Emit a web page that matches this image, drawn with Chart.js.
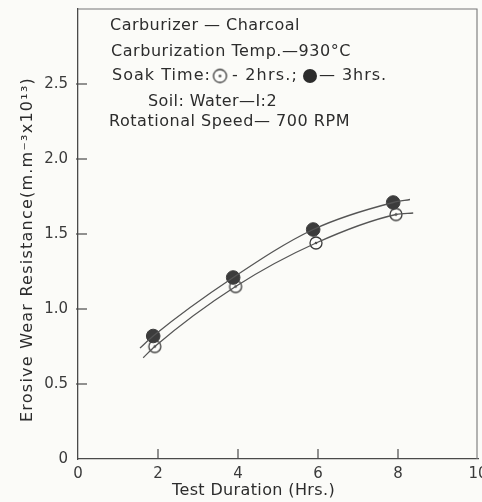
<!DOCTYPE html>
<html>
<head>
<meta charset="utf-8">
<script src="https://cdn.jsdelivr.net/npm/chart.js@4.4.1/dist/chart.umd.min.js"></script>
<style>
  html, body { margin: 0; padding: 0; background: #fbfbf8; overflow: hidden; }
  #wrap { width: 482px; height: 502px; }
</style>
</head>
<body>
<div id="wrap"><canvas id="grafico"></canvas></div>
<script>
// --- DATOS ---
const horas2h = [1.92, 3.94, 5.95, 7.95];
const soak2h = [0.75, 1.15, 1.44, 1.63];
const horas3h = [1.88, 3.88, 5.88, 7.88];
const soak3h = [0.82, 1.21, 1.53, 1.71];

// curvas ajustadas (extremos)
const curva2hX = [1.63, 1.92, 3.94, 5.95, 7.95, 8.38];
const curva2hY = [0.675, 0.75, 1.15, 1.44, 1.63, 1.64];
const curva3hX = [1.55, 1.88, 3.88, 5.88, 7.88, 8.3];
const curva3hY = [0.74, 0.82, 1.21, 1.53, 1.71, 1.73];

const xTicks = [0, 2, 4, 6, 8, 10];
const yTicks = [0, 0.5, 1.0, 1.5, 2.0, 2.5];

const tituloX = 'Test Duration (Hrs.)';
const tituloY = 'Erosive Wear Resistance(m.m\u207B\u00B3x10\u00B9\u00B3)';

// textos del recuadro: [texto, x inicial, ancho, y]
const notas = [
    ['Carburizer \u2014 Charcoal', 110, 190, 26],
    ['Carburization Temp.\u2014930\u00B0C', 111, 240, 52],
    ['Soak Time:', 112, 99, 76],
    ['- 2hrs.;', 232, 66, 76],
    ['\u2014 3hrs.', 319, 68, 76],
    ['Soil: Water\u2014I:2', 148, 129, 102],
    ['Rotational Speed\u2014 700 RPM', 109, 241, 122]
];

const tinta = '#4a4a4a';
const fuente = '"DejaVu Sans", sans-serif';

const pares = (xs, ys) => xs.map((x, i) => ({ x: x, y: ys[i] }));

// texto ajustado a un ancho dado con espaciado de letras
function textoAjustado(ctx, txt, x, y, w) {
    ctx.letterSpacing = '0px';
    const natural = ctx.measureText(txt).width;
    const esp = (w - natural) / txt.length;
    ctx.letterSpacing = Math.max(esp, -1.5) + 'px';
    ctx.fillText(txt, x, y, w);
}

// marcador circulo con punto
function circuloPunto(r) {
    const c = document.createElement('canvas');
    c.width = 2 * r + 4; c.height = 2 * r + 4;
    const m = r + 2;
    const g = c.getContext('2d');
    g.fillStyle = '#fdfdfb';
    g.strokeStyle = '#3a3a3a';
    g.lineWidth = 1.3;
    g.beginPath(); g.arc(m, m, r, 0, Math.PI * 2); g.fill(); g.stroke();
    g.fillStyle = '#3a3a3a';
    g.beginPath(); g.arc(m, m, 1.3, 0, Math.PI * 2); g.fill();
    return c;
}

// --- PLUGIN: marco, ticks hacia dentro y textos ---
const extras = {
    id: 'extras',
    afterDraw(chart) {
        const ctx = chart.ctx;
        const a = chart.chartArea;
        const sx = chart.scales.x, sy = chart.scales.y;
        ctx.save();
        ctx.strokeStyle = '#777';
        ctx.lineWidth = 1.1;
        ctx.beginPath();
        ctx.moveTo(a.left, a.top); ctx.lineTo(a.right - 1, a.top); ctx.lineTo(a.right - 1, a.bottom);
        ctx.stroke();

        ctx.strokeStyle = tinta;
        ctx.lineWidth = 1.2;
        xTicks.slice(1, 5).forEach(v => {
            const px = sx.getPixelForValue(v);
            ctx.beginPath(); ctx.moveTo(px, a.bottom); ctx.lineTo(px, a.bottom - 10); ctx.stroke();
        });
        yTicks.slice(1).forEach(v => {
            const py = sy.getPixelForValue(v);
            ctx.beginPath(); ctx.moveTo(a.left - 2, py); ctx.lineTo(a.left + 9, py); ctx.stroke();
        });

        ctx.fillStyle = '#2c2c2c';
        ctx.font = '16px ' + fuente;
        ctx.textBaseline = 'middle';
        notas.forEach(([txt, x, w, y]) => textoAjustado(ctx, txt, x, y, w));
        // simbolos de la leyenda
        const sim = circuloPunto(6.5);
        ctx.drawImage(sim, 220 - sim.width / 2, 76 - sim.height / 2);
        ctx.beginPath(); ctx.arc(310, 76, 7, 0, Math.PI * 2); ctx.fill();

        // titulos de ejes
        textoAjustado(ctx, tituloX, 172, 491, 163);
        ctx.translate(28, 422);
        ctx.rotate(-Math.PI / 2);
        textoAjustado(ctx, tituloY, 0, 0, 345);
        ctx.restore();
    }
};

new Chart(document.getElementById('grafico'), {
    type: 'scatter',
    data: {
        datasets: [
            {
                label: 'curva 3h', data: pares(curva3hX, curva3hY), showLine: true,
                borderColor: '#555', borderWidth: 1.3, pointRadius: 0,
                cubicInterpolationMode: 'monotone'
            },
            {
                label: 'curva 2h', data: pares(curva2hX, curva2hY), showLine: true,
                borderColor: '#555', borderWidth: 1.3, pointRadius: 0,
                cubicInterpolationMode: 'monotone'
            },
            {
                label: 'Soak 3 hrs', data: pares(horas3h, soak3h),
                pointRadius: 6.8, pointBackgroundColor: '#3c3c3c', pointBorderColor: '#3c3c3c'
            },
            {
                label: 'Soak 2 hrs', data: pares(horas2h, soak2h),
                pointStyle: circuloPunto(6), pointRadius: 8
            }
        ]
    },
    options: {
        responsive: true,
        maintainAspectRatio: false,
        animation: false,
        layout: { autoPadding: false, padding: { top: 9, right: 4, left: 0, bottom: 0 } },
        plugins: { legend: { display: false }, tooltip: { enabled: false } },
        scales: {
            x: {
                type: 'linear', min: 0, max: 10,
                afterBuildTicks: s => { s.ticks = xTicks.map(v => ({ value: v })); },
                grid: { display: true, drawOnChartArea: false, drawTicks: false },
                border: { color: tinta, width: 1.3 },
                ticks: { color: '#3a3a3a', font: { size: 15, family: fuente }, padding: 6, maxRotation: 0 },
                afterFit: s => { s.height = 43; s.paddingRight = 0; s.paddingLeft = 0; }
            },
            y: {
                type: 'linear', min: 0, max: 3,
                afterBuildTicks: s => { s.ticks = yTicks.map(v => ({ value: v })); },
                grid: { display: true, drawOnChartArea: false, drawTicks: false },
                border: { color: tinta, width: 1.3 },
                ticks: {
                    color: '#3a3a3a', font: { size: 15, family: fuente }, padding: 10,
                    callback: v => v === 0 ? '0' : v.toFixed(1)
                },
                afterFit: s => { s.width = 78; s.paddingTop = 0; s.paddingBottom = 0; }
            }
        }
    },
    plugins: [extras]
});
</script>
</body>
</html>
